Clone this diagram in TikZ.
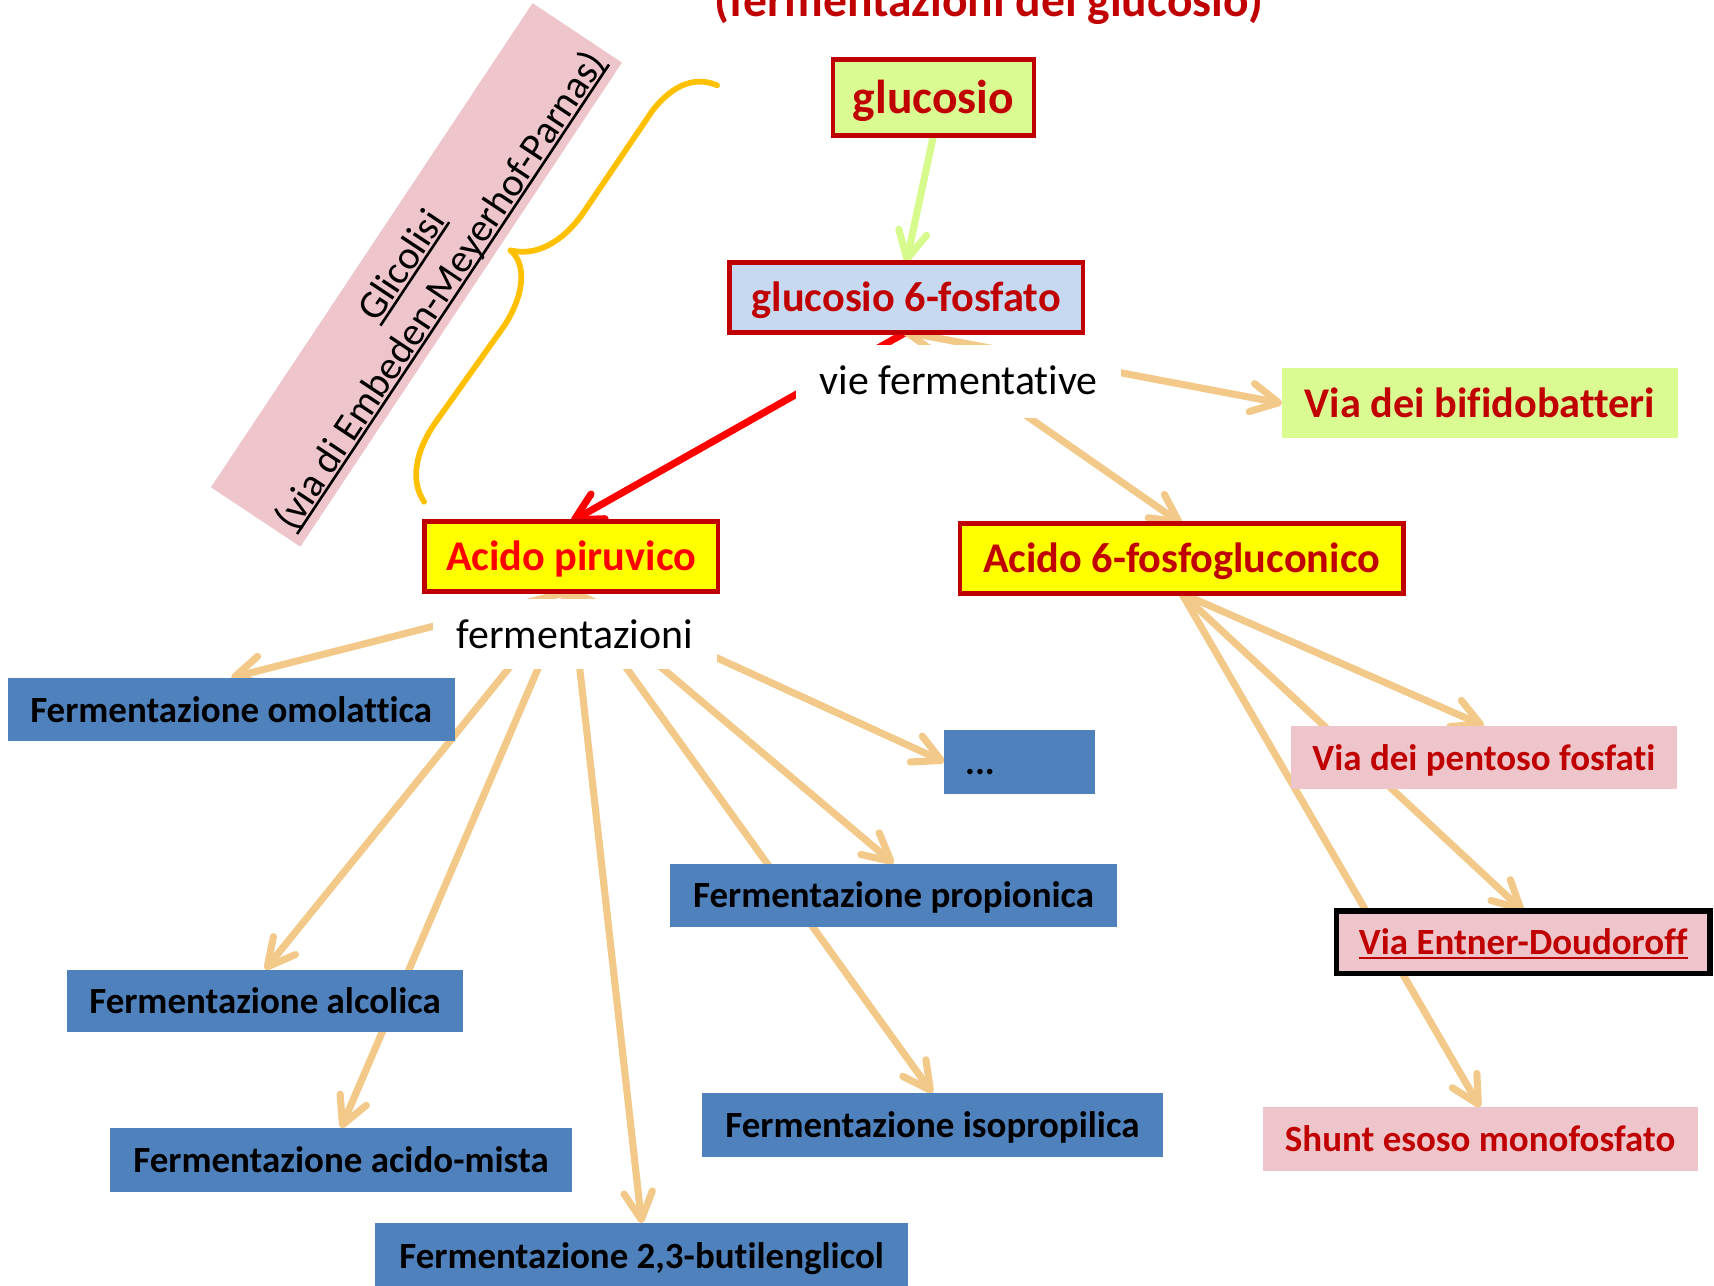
\documentclass[tikz,border=0pt]{standalone}
\usepackage{fontspec}
\setmainfont{Carlito}[Ligatures=NoCommon]
\usetikzlibrary{arrows.meta}
\pgfdeclarelayer{bg}
\pgfsetlayers{bg,main}

\definecolor{darkredc}{RGB}{192,0,0}
\definecolor{redc}{RGB}{255,0,0}
\definecolor{yellowc}{RGB}{255,255,0}
\definecolor{limec}{RGB}{218,251,146}
\definecolor{lightbluec}{RGB}{198,217,241}
\definecolor{bluec}{RGB}{79,129,189}
\definecolor{pinkc}{RGB}{238,197,203}
\definecolor{orangec}{RGB}{243,201,138}
\definecolor{bracec}{RGB}{255,192,0}
\definecolor{greenarr}{RGB}{214,250,140}

% underline at a fixed depth below the baseline
\newcommand{\undl}[1]{\setbox0=\hbox{#1}\leavevmode\rlap{\rule[-0.11em]{\wd0}{0.065em}}\box0}
% break a glyph pair that the font would otherwise join
\newcommand{\nl}{\kern0pt }

\begin{document}
\begin{tikzpicture}[x=1pt,y=-1pt,
  f24/.style={font=\fontsize{33.8}{40}\selectfont\bfseries, text height=23.7pt, text depth=0.7pt},
  f28/.style={font=\fontsize{38.7}{46}\selectfont\bfseries, text height=27.1pt, text depth=0.8pt},
  f32/.style={font=\fontsize{43.5}{52}\selectfont\bfseries, text height=30.5pt, text depth=0.9pt},
  keybox/.style={draw=darkredc, line width=4.3pt, inner sep=0pt, outer sep=0pt},
  fermbox/.style={f24, fill=bluec, text=black, inner sep=0pt, outer sep=0pt},
  pinkbox/.style={f24, fill=pinkc, text=darkredc, inner sep=0pt, outer sep=0pt},
  tagtext/.style={fill=white, inner sep=0pt, outer sep=0pt, text=black, font=\fontsize{38.3}{46}\selectfont},
  conn/.style={line width=6.5pt, line cap=round, -{Straight Barb[length=25pt,width=26pt,round]}},
]
\useasboundingbox (0,0) rectangle (1568,1176);
\begin{pgfonlayer}{bg}
  \fill[white] (0,0) rectangle (1568,1176);
\end{pgfonlayer}

% title (partly above the page)
\node[f32, text=darkredc, anchor=base] (title) at (904.5,15) {(fermentazioni del glucosio)};

% main chain
\node[keybox, f32, fill=limec, text=darkredc, minimum width=183.7, minimum height=69.7] (glu) at (854,89) {glucosio};
\node[keybox, f28, fill=lightbluec, text=darkredc, minimum width=323.7, minimum height=63.7] (g6p) at (829,272) {glucosio 6-fosfato};
\node[f28, fill=limec, text=darkredc, inner sep=0pt, outer sep=0pt, minimum width=362, minimum height=64] (bif) at (1354,369) {Via dei bif\nl idobatteri};
\node[keybox, f28, fill=yellowc, text=redc, minimum width=268.7, minimum height=63.7] (acp) at (522.5,509) {Acido piruvico};
\node[keybox, f28, fill=yellowc, text=darkredc, minimum width=405.7, minimum height=63.7] (a6p) at (1081,511) {Acido 6-fosfogluconico};

% labels on white that hide the start of the connectors
\node[tagtext, anchor=base, minimum width=297, text height=45pt, text depth=21pt] (vie) at (877,361) {vie fermentat\nl ive};
\node[tagtext, anchor=base, minimum width=259, text height=45pt, text depth=19pt] (ferm) at (526,593) {fermentazioni};

% fermentations of pyruvate
\node[fermbox, minimum width=409, minimum height=58] (omo) at (211.5,649) {Fermentazione omolatt\nl ica};
\node[fermbox, minimum height=58, text width=100pt, align=left, inner xsep=19pt] (dots) at (933,697) {...};
\node[fermbox, minimum width=409, minimum height=58] (prop) at (817.5,819) {Fermentazione propionica};
\node[fermbox, minimum width=363, minimum height=57] (alc) at (242.5,915.5) {Fermentazione alcolica};
\node[fermbox, minimum width=422, minimum height=58] (iso) at (853,1029) {Fermentazione isopropilica};
\node[fermbox, minimum width=422, minimum height=58] (mista) at (312,1061) {Fermentazione acido-mista};
\node[fermbox, minimum width=488, minimum height=59] (buti) at (587,1148.5) {Fermentazione 2,3-but\nl ilenglicol};

% pathways of 6-phosphogluconate
\node[pinkbox, minimum width=353, minimum height=58] (pento) at (1357.5,693) {Via dei pentoso fosfat\nl i};
\node[pinkbox, draw=black, line width=5pt, minimum width=342, minimum height=57] (ed) at (1393.5,862) {\undl{Via Entner-Doudorof\nl f}};
\node[pinkbox, minimum width=398, minimum height=58] (shunt) at (1354,1042) {Shunt esoso monofosfato};

% glycolysis band and brace
\node[fill=pinkc, rotate=56.4, minimum width=531.7, minimum height=98.2, inner sep=0pt] (band) at (381,251.5) {};
\node[rotate=56.4, align=center, inner sep=0pt, font=\fontsize{36.5}{42}\selectfont] (glyc) at (386.5,255.2)
  {\undl{Glicolisi}\\\undl{(via di Embeden-Meyerhof-Parnas)}};
\draw[bracec, line width=5.2pt, line cap=round, line join=round]
  (656,78) .. controls (632,68) and (612,82) .. (597,101)
  -- (532,197)
  .. controls (515,220) and (492,235) .. (467,229)
  .. controls (480,240) and (482,265) .. (462,297)
  -- (398,387)
  .. controls (380,413) and (375,440) .. (388,459);

% connectors
\begin{pgfonlayer}{bg}
  \draw[conn, draw=greenarr] (glu.south) -- (g6p.north);
  \draw[conn, draw=redc] (g6p.south) -- (acp.north);
  \draw[conn, draw=orangec] (g6p.south) -- (bif.west);
  \draw[conn, draw=orangec] (g6p.south) -- (a6p.north);
  \foreach \t in {omo,alc,mista,buti,prop,iso}
    \draw[conn, draw=orangec] (acp.south) -- (\t.north);
  \draw[conn, draw=orangec] (acp.south) -- (dots.west);
  \foreach \t in {pento,ed,shunt}
    \draw[conn, draw=orangec] (a6p.south) -- (\t.north);
\end{pgfonlayer}
\end{tikzpicture}
\end{document}
